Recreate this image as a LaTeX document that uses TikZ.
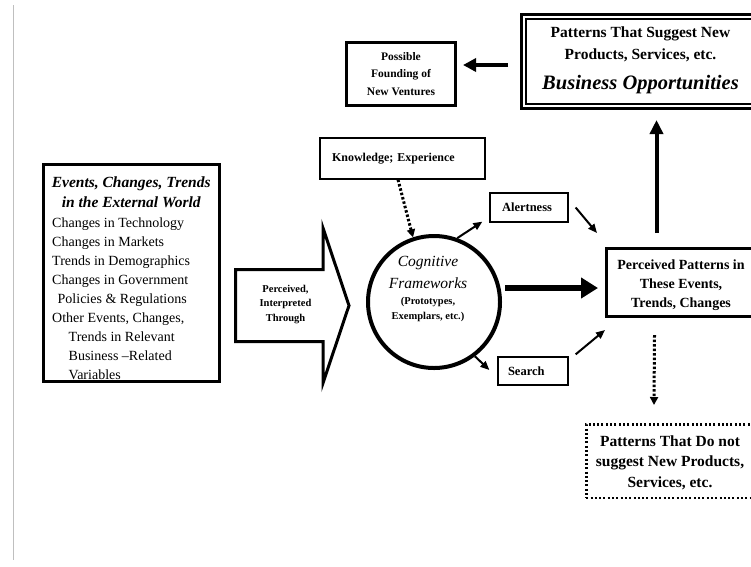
\documentclass[tikz,border=0pt]{standalone}
\usepackage{fontspec}
\setmainfont{Liberation Serif}
\usetikzlibrary{arrows.meta,calc}

\newcommand\setfs[2]{\fontsize{#1}{#2}\selectfont}
\newcommand\headline[1]{\makebox[\linewidth][c]{#1}}

\begin{document}
\begin{tikzpicture}[x=1pt,y=-1pt,
  heavybox/.style={draw, line width=3pt, fill=white, inner sep=0pt},
  lightbox/.style={draw, line width=1.3pt, fill=white, inner sep=0pt},
  dottedbox/.style={draw, line width=2.5pt, dash pattern=on 2pt off 2.3pt, fill=white, inner sep=0pt},
  plain/.style={inner sep=0pt, align=center},
  thinarrow/.style={line width=2pt, -{Triangle[length=9pt,width=7.5pt]}},
  dotarrow/.style={line width=3pt, dash pattern=on 2.5pt off 2pt, -{Triangle[length=8pt,width=8pt]}},
]
\clip (0,0) rectangle (751,566);
\fill[white] (0,0) rectangle (751,566);
\draw[black!25, line width=1pt] (13,5) -- (13,560);

% external world box
\node[heavybox, minimum width=176pt, minimum height=217pt] (events) at (131.5,273) {};
\node[anchor=base west, inner sep=0pt] (eventstext) at (52,187) {\parbox[t]{158pt}{%
  \raggedright\setfs{15.5}{20}\bfseries\itshape
  \headline{Events, Changes, Trends}\\\headline{in the External World}\par
  \vspace{1pt}\setfs{14}{19.1}\mdseries\upshape
  Changes in Technology\\
  Changes in Markets\\
  Trends in Demographics\\
  Changes in Government\\
  \hspace*{5.5pt}Policies \& Regulations\\
  Other Events, Changes,\\
  \hspace*{16.5pt}Trends in Relevant\\
  \hspace*{16.5pt}Business –Related\\
  \hspace*{16.5pt}Variables}};

% hollow block arrow
\draw[line width=3pt, fill=white, line join=miter]
  (235.5,269.5) -- (323,269.5) -- (323,228) -- (349,305.5) -- (323,383)
  -- (323,341.5) -- (235.5,341.5) -- cycle;
\node[plain, font=\setfs{10.5}{14.5}\bfseries] (through) at (285.5,304.5)
  {Perceived,\\Interpreted\\Through};

% cognitive frameworks
\node[circle, draw, line width=4pt, minimum size=132pt, inner sep=0pt, fill=white] (cog) at (434,302) {};
\node[plain, font=\setfs{15.5}{22}\itshape] (cogtitle) at (428,272.3) {Cognitive\\Frameworks};
\node[plain, font=\setfs{10.5}{15}\bfseries] (cognote) at (428,309.5) {(Prototypes,\\Exemplars, etc.)};

% small boxes
\node[lightbox, minimum height=41pt, inner xsep=12pt, text width=141pt, align=left,
  font=\setfs{12}{14}\bfseries] (know) at (402.5,158.5) {Knowledge; Experience};
\node[lightbox, minimum height=29pt, inner xsep=12pt, text width=54pt, align=left,
  font=\setfs{12.5}{14}\bfseries] (alert) at (529,207.5) {Alertness};
\node[lightbox, minimum height=28pt, inner xsep=10pt, text width=50pt, align=left,
  font=\setfs{12.5}{14}\bfseries] (search) at (533,371) {Search};

% perceived patterns
\node[heavybox, minimum width=150pt, minimum height=68pt] (perc) at (681.5,282.5) {};
\node[plain, font=\setfs{14}{19}\bfseries] (perctext) at (681,285)
  {Perceived Patterns in\\These Events,\\Trends, Changes};

% business opportunities
\node[heavybox, minimum width=238pt, minimum height=94pt] (biz) at (640.5,61.5) {};
\draw[line width=1.3pt] ($(biz.north west)+(6,6)$) rectangle ($(biz.south east)+(-6,-6)$);
\node[plain, font=\setfs{15.5}{22}\bfseries] (biztext) at (640.5,60)
  {Patterns That Suggest New\\Products, Services, etc.\\[8pt]{\setfs{20.5}{22}\itshape Business Opportunities}};

% founding of new ventures
\node[heavybox, minimum width=109pt, minimum height=63pt, align=center,
  font=\setfs{11.5}{17.5}\bfseries] (found) at (401,74) {Possible\\Founding of\\New Ventures};

% patterns without opportunities
\node[dottedbox, minimum width=167.5pt, minimum height=73.5pt] (notp) at (670,461) {};
\node[plain, font=\setfs{15.5}{20.5}\bfseries] (notptext) at (670,462.5)
  {Patterns That Do not\\suggest New Products,\\Services, etc.};

% connectors
\draw[dotarrow] ($(know.south)+(-4.5,0)$) -- (cog.108);
\draw[thinarrow] (cog.70) -- ($(alert.south west)+(-7,-1)$);
\draw[thinarrow] ($(alert.east)+(7,0)$) -- ($(perc.north west)+(-8,-14)$);
\draw[thinarrow] (cog.-53) -- ($(search.west)+(-8,-1)$);
\draw[thinarrow] ($(search.north east)+(7,-2)$) -- ($(perc.south west)+(0,12)$);
\draw[line width=6pt, -{Triangle[length=17pt,width=20pt]}]
  ($(cog.east)+(3,-14)$) -- ($(perc.west)+(-7,5.5)$);
\draw[line width=4pt, -{Triangle[length=14pt,width=13pt]}]
  ($(perc.north)+(-25,-14)$) -- ($(biz.south)+(16,10)$);
\draw[dotarrow] ($(perc.south)+(-27,17)$) -- ($(notp.north)+(-16,-18)$);
\draw[line width=4pt, -{Triangle[length=13pt,width=13pt]}]
  ($(biz.west)+(-12,3.5)$) -- ($(found.east)+(6,-9)$);
\end{tikzpicture}
\end{document}
